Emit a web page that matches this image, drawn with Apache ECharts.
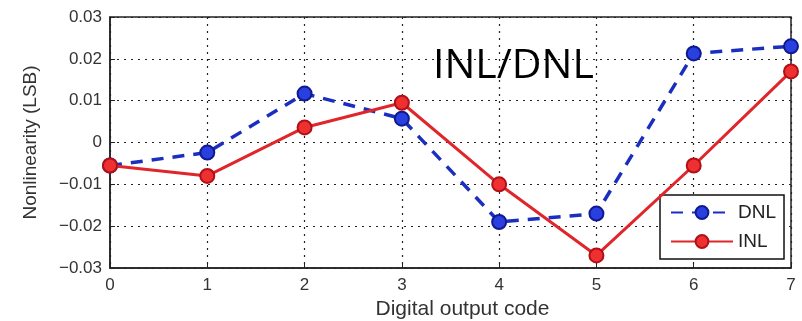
<!DOCTYPE html>
<html><head><meta charset="utf-8">
<script src="https://cdn.jsdelivr.net/npm/echarts@6/dist/echarts.min.js"></script>
<style>html,body{margin:0;padding:0;background:#fff}#c{width:802px;height:321px}</style>
</head><body><div id="c"></div>
<script>
const codes = [0, 1, 2, 3, 4, 5, 6, 7];
const dnl = [-0.0055, -0.0024, 0.0117, 0.0057, -0.019, -0.017, 0.0213, 0.023];
const inl = [-0.0055, -0.008, 0.0036, 0.0095, -0.010, -0.027, -0.0055, 0.017];
const yTicks = [-0.03, -0.02, -0.01, 0, 0.01, 0.02, 0.03];

const chart = echarts.init(document.getElementById('c'));
const fmtY = v => {
  const r = Math.round(v * 100) / 100;
  if (r === 0) return '0';
  return (r < 0 ? '\u2212' : '') + Math.abs(r).toFixed(2);
};
chart.setOption({
  backgroundColor: '#fff',
  animation: false,
  title: {
    text: 'INL/DNL', left: 428, top: 41,
    textStyle: { fontFamily: 'Open Sans', fontSize: 41, fontWeight: 'normal', color: '#000' }
  },
  grid: { left: 110, right: 11, top: 17, bottom: 53, outerBoundsMode: 'none', containLabel: false,
    show: true, borderColor: '#222', borderWidth: 1.5, backgroundColor: '#fff' },
  legend: {
    orient: 'vertical', left: 660, top: 195, width: 131, height: 65,
    backgroundColor: '#fff', borderColor: '#111', borderWidth: 1.5, borderRadius: 0,
    padding: [8, 8, 8, 10], itemGap: 10, itemWidth: 62, itemHeight: 16,
    textStyle: { fontFamily: 'Liberation Sans', fontSize: 19, color: '#222' },
    data: ['DNL', 'INL']
  },
  xAxis: {
    type: 'value', min: 0, max: 7, interval: 1,
    name: 'Digital output code', nameLocation: 'middle', nameGap: 30,
    nameTextStyle: { fontFamily: 'Liberation Sans', fontSize: 21, color: '#333', padding: [0, 0, 0, 24] },
    axisLine: { onZero: false, lineStyle: { color: '#222', width: 1.5 } },
    axisTick: { inside: true, length: 5, lineStyle: { color: '#222' } },
    axisLabel: { fontFamily: 'Liberation Sans', fontSize: 17, color: '#333', margin: 9 },
    splitLine: { show: true, lineStyle: { type: [2, 5], color: '#222', width: 1.2 } }
  },
  yAxis: {
    type: 'value', min: -0.03, max: 0.03, interval: 0.01,
    name: 'Nonlinearity (LSB)', nameLocation: 'middle', nameGap: 70, nameRotate: 90,
    nameTextStyle: { fontFamily: 'Liberation Sans', fontSize: 19, color: '#333' },
    axisLine: { show: true, onZero: false, lineStyle: { color: '#222', width: 1.5 } },
    axisTick: { show: true, inside: true, length: 5, lineStyle: { color: '#222' } },
    axisLabel: { fontFamily: 'Liberation Sans', fontSize: 17, color: '#333', margin: 8, formatter: fmtY },
    splitLine: { show: true, lineStyle: { type: [2, 5], color: '#222', width: 1.2 } }
  },
  series: [
    {
      name: 'DNL', type: 'line', data: codes.map((c, i) => [c, dnl[i]]),
      symbol: 'circle', symbolSize: 14,
      lineStyle: { color: '#1a2fbf', width: 3.5, type: [12, 9] },
      itemStyle: { color: '#2a3fe0', borderColor: '#101a90', borderWidth: 2 },
      z: 3
    },
    {
      name: 'INL', type: 'line', data: codes.map((c, i) => [c, inl[i]]),
      symbol: 'circle', symbolSize: 14,
      lineStyle: { color: '#e0262a', width: 3 },
      itemStyle: { color: '#ee3030', borderColor: '#b01018', borderWidth: 2 },
      z: 4
    }
  ]
});
</script></body></html>
